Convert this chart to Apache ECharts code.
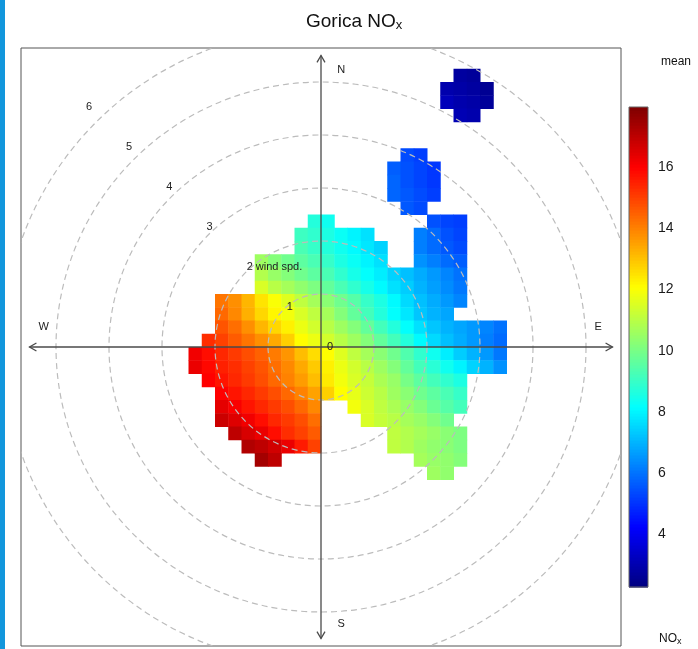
<!DOCTYPE html>
<html>
<head>
<meta charset="utf-8">
<script src="https://cdn.jsdelivr.net/npm/echarts@6/dist/echarts.min.js"></script>
<style>
html,body{margin:0;padding:0;background:#fff;}
#chart{width:698px;height:649px;}
</style>
</head>
<body>
<div id="chart"></div>
<script>
// ---------------- data ----------------
const _ = null;
// grid of mean NOx values; cells 0.25 (wind speed units) wide
const cellSize = 0.25;
const firstColX = -2.375;   // u-centre of column 0
const firstRowY = 5.125;    // v-centre of row 0
const gridRows = [
  /*  5.125 */ [_,_,_,_,_,_,_,_,_,_,_,_,_,_,_,_,_,_,_,_,2.8,2.7],
  /*  4.875 */ [_,_,_,_,_,_,_,_,_,_,_,_,_,_,_,_,_,_,_,3.0,2.9,2.8,2.6],
  /*  4.625 */ [_,_,_,_,_,_,_,_,_,_,_,_,_,_,_,_,_,_,_,3.2,3.0,2.9,2.7],
  /*  4.375 */ [_,_,_,_,_,_,_,_,_,_,_,_,_,_,_,_,_,_,_,_,3.1,3.0],
  /*  4.125 */ [],
  /*  3.875 */ [],
  /*  3.625 */ [_,_,_,_,_,_,_,_,_,_,_,_,_,_,_,_,5.4,5.2],
  /*  3.375 */ [_,_,_,_,_,_,_,_,_,_,_,_,_,_,_,5.7,5.5,5.3,5.1],
  /*  3.125 */ [_,_,_,_,_,_,_,_,_,_,_,_,_,_,_,5.8,5.5,5.3,5.1],
  /*  2.875 */ [_,_,_,_,_,_,_,_,_,_,_,_,_,_,_,5.8,5.6,5.4,5.2],
  /*  2.625 */ [_,_,_,_,_,_,_,_,_,_,_,_,_,_,_,_,5.6,5.4],
  /*  2.375 */ [_,_,_,_,_,_,_,_,_,8.7,8.4,_,_,_,_,_,_,_,5.5,5.3,5.2],
  /*  2.125 */ [_,_,_,_,_,_,_,_,9.1,8.9,8.6,8.3,8.0,7.7,_,_,_,6.2,5.9,5.5,5.3],
  /*  1.875 */ [_,_,_,_,_,_,_,_,9.3,9.0,8.7,8.4,8.1,7.8,7.5,_,_,6.2,5.9,5.6,5.4],
  /*  1.625 */ [_,_,_,_,_,10.6,10.2,9.9,9.6,9.3,9.0,8.6,8.3,8.0,7.7,_,_,6.5,6.2,5.9,5.7],
  /*  1.375 */ [_,_,_,_,_,10.9,10.5,10.2,9.9,9.6,9.3,8.9,8.5,8.2,7.9,7.5,7.2,6.9,6.6,6.3,6.0],
  /*  1.125 */ [_,_,_,_,_,11.5,11.0,10.7,10.4,10.1,9.7,9.3,8.9,8.5,8.1,7.7,7.4,7.0,6.7,6.4,6.1],
  /*  0.875 */ [_,_,14.2,13.8,13.2,12.5,12.0,11.6,11.1,10.7,10.3,9.9,9.5,9.0,8.6,8.1,7.6,7.2,6.9,6.6,6.3],
  /*  0.625 */ [_,_,14.4,13.9,13.3,12.7,12.2,11.9,11.5,11.1,10.7,10.2,9.7,9.2,8.7,8.2,7.8,7.3,7.0,6.8],
  /*  0.375 */ [_,_,14.7,14.3,13.8,13.2,12.7,12.3,11.8,11.4,11.0,10.6,10.2,9.7,9.2,8.7,8.2,7.7,7.3,7.0,6.8,6.6,6.3,6.0],
  /*  0.125 */ [_,15.3,15.0,14.6,14.2,13.8,13.4,12.8,12.1,11.8,11.4,11.0,10.6,10.2,9.7,9.2,8.7,8.1,7.6,7.2,6.9,6.6,6.2,5.9],
  /* -0.125 */ [16.2,15.8,15.4,15.1,14.8,14.5,14.1,13.7,13.1,12.6,12.1,11.6,11.1,10.7,10.3,9.9,9.4,8.9,8.4,7.9,7.4,7.0,6.6,6.1],
  /* -0.375 */ [16.3,15.9,15.5,15.3,15.0,14.7,14.3,13.9,13.4,12.9,12.3,11.8,11.4,11.0,10.6,10.2,9.7,9.2,8.8,8.4,8.0,7.5,7.0,6.5],
  /* -0.625 */ [_,16.0,15.7,15.4,15.1,14.8,14.4,14.0,13.6,13.1,12.4,11.9,11.5,11.2,10.8,10.5,10.0,9.6,9.2,8.9,8.6],
  /* -0.875 */ [_,_,16.0,15.7,15.4,15.1,14.8,14.4,14.0,13.5,12.8,12.1,11.7,11.3,11.0,10.6,10.3,9.9,9.6,9.3,9.0],
  /* -1.125 */ [_,_,16.4,16.1,15.7,15.4,15.1,14.8,14.4,13.9,_,_,11.9,11.5,11.1,10.8,10.5,10.2,9.8,9.5,9.2],
  /* -1.375 */ [_,_,16.8,16.5,16.2,15.8,15.4,15.1,14.8,14.3,_,_,_,11.5,11.2,11.0,10.7,10.5,10.2,9.9],
  /* -1.625 */ [_,_,_,17.0,16.6,16.3,15.8,15.3,15.0,14.6,_,_,_,_,_,11.1,10.9,10.7,10.5,10.3,10.1],
  /* -1.875 */ [_,_,_,_,17.2,17.0,16.7,16.3,15.6,15.0,_,_,_,_,_,11.1,10.9,10.6,10.4,10.3,10.1],
  /* -2.125 */ [_,_,_,_,_,17.4,17.0,_,_,_,_,_,_,_,_,_,_,10.7,10.5,10.4,10.2],
  /* -2.375 */ [_,_,_,_,_,_,_,_,_,_,_,_,_,_,_,_,_,_,10.6,10.4]
];
const ringRadii = [1, 2, 3, 4, 5, 6];
const ringLabels = ['1', '2 wind spd.', '3', '4', '5', '6'];
const centreLabel = '0';
const compassLabels = ['N', 'E', 'S', 'W'];
const colorTicks = [4, 6, 8, 10, 12, 14, 16];
const valueMin = 2.29;
const valueMax = 17.96;
const jetColors = ['#00007F', '#0000FF', '#007FFF', '#00FFFF', '#7FFF7F', '#FFFF00', '#FF7F00', '#FF0000', '#7F0000'];

// ---------------- build ----------------
const FONT = '"Liberation Sans", Arial, Helvetica, sans-serif';
const xHalf = 300 / 53, yHalf = 299 / 53;   // plot box half ranges (wind speed units)
const axisReach = 5.5;

const cells = [];
gridRows.forEach((row, j) => {
  row.forEach((v, i) => {
    if (v !== null) cells.push([firstColX + i * cellSize, firstRowY - j * cellSize, v]);
  });
});

const labelItems = [];
labelItems.push({ t: centreLabel, x: 0.113, y: 0, align: 'left' });
ringRadii.forEach((r, k) => labelItems.push({ t: ringLabels[k], x: -0.758 * r + 0.113, y: 0.755 * r, align: 'left' }));
const cOff = 0.38, cReach = 5.23;
labelItems.push({ t: compassLabels[0], x: cOff, y: cReach, align: 'center' });
labelItems.push({ t: compassLabels[1], x: cReach, y: cOff, align: 'center' });
labelItems.push({ t: compassLabels[2], x: cOff, y: -cReach, align: 'center' });
labelItems.push({ t: compassLabels[3], x: -cReach, y: cOff, align: 'center' });

const bandCount = 160;
const bands = [];
for (let k = 0; k < bandCount; k++) {
  const lo = valueMin + (valueMax - valueMin) * k / bandCount;
  const hi = valueMin + (valueMax - valueMin) * (k + 1) / bandCount;
  bands.push([lo, hi, (lo + hi) / 2]);
}

const chart = echarts.init(document.getElementById('chart'), null, { renderer: 'canvas' });
const arrowStyle = { stroke: '#4a4a4a', lineWidth: 1.3, fill: 'none' };

function arrowHead(tip, bx, by) {
  const L = 8, th = Math.PI / 6, c = Math.cos(th), s = Math.sin(th);
  return {
    type: 'polyline',
    shape: { points: [
      [tip[0] + L * (bx * c - by * s), tip[1] + L * (bx * s + by * c)],
      [tip[0], tip[1]],
      [tip[0] + L * (bx * c + by * s), tip[1] + L * (-bx * s + by * c)]
    ] },
    style: arrowStyle
  };
}

const option = {
  animation: false,
  title: {
    text: '{a|Gorica NO}{b|x}',
    left: 306, top: 12, padding: 0,
    textStyle: {
      fontWeight: 'normal',
      rich: {
        a: { fontSize: 19, fontFamily: FONT, color: '#111', lineHeight: 20 },
        b: { fontSize: 13, fontFamily: FONT, color: '#111', lineHeight: 13, verticalAlign: 'bottom' }
      }
    }
  },
  graphic: [
    { type: 'rect', left: 0, top: 0, shape: { width: 5, height: 649 }, style: { fill: '#1296dc' } },
    { type: 'text', left: 661, top: 56, style: { text: 'mean', font: '12px ' + FONT, fill: '#111' } },
    { type: 'text', left: 659, top: 633, style: { text: '{a|NO}{b|x}', rich: {
        a: { fontSize: 12, fontFamily: FONT, fill: '#111', lineHeight: 14 },
        b: { fontSize: 9, fontFamily: FONT, fill: '#111', lineHeight: 9, verticalAlign: 'bottom' } } } }
  ],
  grid: [
    { left: 21, top: 48, width: 600, height: 598, show: true, borderColor: '#555', borderWidth: 1, backgroundColor: 'transparent' },
    { left: 629, top: 107, width: 19, height: 480, show: true, borderColor: '#666', borderWidth: 1, backgroundColor: 'transparent', z: 10 }
  ],
  xAxis: [
    { type: 'value', gridIndex: 0, min: -xHalf, max: xHalf, show: false },
    { type: 'value', gridIndex: 1, min: 0, max: 1, show: false }
  ],
  yAxis: [
    { type: 'value', gridIndex: 0, min: -yHalf, max: yHalf, show: false },
    { type: 'value', gridIndex: 1, min: valueMin, max: valueMax, position: 'right',
      axisLine: { show: false },
      splitLine: { show: false },
      axisTick: { show: true, length: 5, lineStyle: { color: '#333', width: 1 }, customValues: colorTicks },
      axisLabel: { show: true, margin: 10, fontSize: 14, fontFamily: FONT, color: '#1a1a1a', customValues: colorTicks }
    }
  ],
  visualMap: {
    show: false, type: 'continuous', min: valueMin, max: valueMax,
    dimension: 2, seriesIndex: [0, 4], inRange: { color: jetColors }
  },
  series: [
    { // 0: surface cells
      type: 'custom', xAxisIndex: 0, yAxisIndex: 0, silent: true,
      encode: { x: 0, y: 1 },
      data: cells,
      renderItem(params, api) {
        const p = api.coord([api.value(0) - cellSize / 2, api.value(1) + cellSize / 2]);
        const s = api.size([cellSize, cellSize]);
        return { type: 'rect', shape: { x: p[0], y: p[1], width: s[0] + 0.5, height: s[1] + 0.5 },
                 style: { fill: api.visual('color') } };
      }
    },
    { // 1: dashed wind speed rings
      type: 'custom', xAxisIndex: 0, yAxisIndex: 0, silent: true, clip: true,
      encode: { x: 0, y: 1 },
      data: ringRadii.map(r => [r, 0]),
      renderItem(params, api) {
        const c = api.coord([0, 0]);
        const r = api.size([api.value(0), 0])[0];
        return { type: 'circle', shape: { cx: c[0], cy: c[1], r: r },
                 style: { fill: 'none', stroke: '#bcbcbc', lineWidth: 1.2, lineDash: [6, 4] } };
      }
    },
    { // 2: compass axes with arrows
      type: 'custom', xAxisIndex: 0, yAxisIndex: 0, silent: true,
      encode: { x: 0, y: 1 },
      data: [[-axisReach, 0, axisReach, 0], [0, -axisReach, 0, axisReach]],
      renderItem(params, api) {
        const a = api.coord([api.value(0), api.value(1)]);
        const b = api.coord([api.value(2), api.value(3)]);
        const dx = b[0] - a[0], dy = b[1] - a[1], len = Math.hypot(dx, dy);
        const ux = dx / len, uy = dy / len;
        return { type: 'group', children: [
          { type: 'line', shape: { x1: a[0], y1: a[1], x2: b[0], y2: b[1] }, style: arrowStyle },
          arrowHead(b, -ux, -uy),
          arrowHead(a, ux, uy)
        ] };
      }
    },
    { // 3: labels
      type: 'custom', xAxisIndex: 0, yAxisIndex: 0, silent: true,
      encode: { x: 0, y: 1 },
      data: labelItems.map(it => [it.x, it.y]),
      renderItem(params, api) {
        const it = labelItems[params.dataIndex];
        const p = api.coord([api.value(0), api.value(1)]);
        return { type: 'text', x: p[0], y: p[1],
                 style: { text: it.t, fontSize: 11, fontFamily: FONT, fill: '#222', align: it.align, verticalAlign: 'middle' } };
      }
    },
    { // 4: colour key
      type: 'custom', xAxisIndex: 1, yAxisIndex: 1, silent: true,
      encode: { x: 0, y: 1 },
      data: bands,
      renderItem(params, api) {
        const top = api.coord([0, api.value(1)]);
        const bot = api.coord([1, api.value(0)]);
        return { type: 'rect', shape: { x: top[0], y: top[1], width: bot[0] - top[0], height: bot[1] - top[1] + 0.6 },
                 style: { fill: api.visual('color') } };
      }
    }
  ]
};
chart.setOption(option);
</script>
</body>
</html>
